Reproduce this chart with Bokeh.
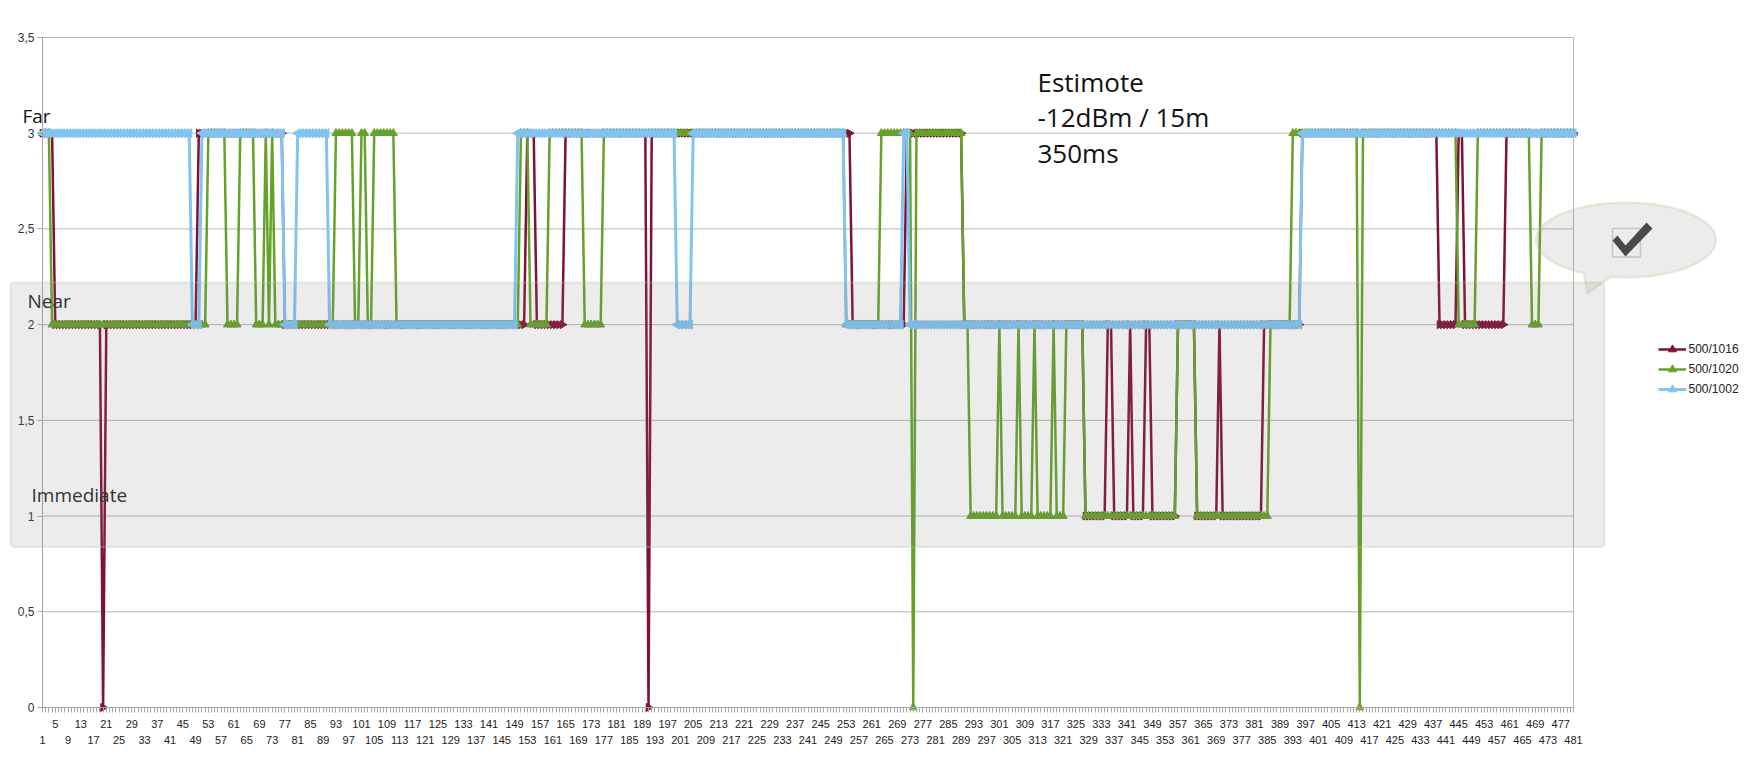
import math
from bokeh.plotting import figure
from bokeh.models import (Range1d, FixedTicker, LinearAxis, BoxAnnotation,
                          PolyAnnotation, Label)
from bokeh.embed import file_html
from bokeh.resources import INLINE

# ---------------- data ----------------
categories = list(range(1, 482))
top_row_ticks = list(range(5, 482, 8))
bottom_row_ticks = list(range(1, 482, 8))
y_ticks = [0, 0.5, 1, 1.5, 2, 2.5, 3, 3.5]
y_tick_labels = ["0", "0,5", "1", "1,5", "2", "2,5", "3", "3,5"]

series_names = ["500/1016", "500/1020", "500/1002"]

# change points: (first sample index, value held from there on)
changes_1016 = [(1, 3), (5, 2), (20, 0), (21, 2), (50, 3), (77, 2), (153, 3), (156, 2),
                (165, 3), (191, 0), (192, 3), (255, 2), (272, 3), (290, 2), (328, 1),
                (335, 2), (337, 1), (342, 2), (343, 1), (347, 2), (349, 1), (357, 2),
                (363, 1), (370, 2), (371, 1), (384, 2), (396, 3), (439, 2), (445, 3),
                (447, 2), (460, 3)]
changes_1020 = [(1, 3), (4, 2), (53, 3), (59, 2), (63, 3), (68, 2), (71, 3), (72, 2),
                (73, 3), (74, 2), (93, 3), (99, 2), (101, 3), (103, 2), (105, 3), (112, 2),
                (151, 3), (154, 2), (160, 3), (171, 2), (177, 3), (253, 2), (264, 3),
                (274, 0), (275, 3), (290, 2), (292, 1), (301, 2), (302, 1), (307, 2),
                (308, 1), (312, 2), (313, 1), (318, 2), (319, 1), (322, 2), (328, 1),
                (357, 2), (363, 1), (386, 2), (393, 3), (414, 0), (415, 3), (445, 2),
                (451, 3), (468, 2), (471, 3)]
changes_1002 = [(1, 3), (48, 2), (51, 3), (77, 2), (81, 3), (91, 2), (150, 3), (200, 2),
                (205, 3), (253, 2), (271, 3), (273, 2), (396, 3)]


def expand(changes, n):
    out = []
    for k, (start, val) in enumerate(changes):
        end = changes[k + 1][0] if k + 1 < len(changes) else n + 1
        out.extend([val] * (end - start))
    return out


s1016 = expand(changes_1016, len(categories))
s1020 = expand(changes_1020, len(categories))
s1002 = expand(changes_1002, len(categories))

C1016 = "#7f1036"
C1020 = "#65a22a"
C1002 = "#82c3f0"
GRID = "#b6b6b6"
AXIS = "#a6a6a6"

# ---------------- layout ----------------
W, H = 1749, 777
PX_FIRST, PX_LAST = 42, 1573      # pixel x of first / last category
PY_TOP, PY_BOT = 37, 707          # pixel y of 3.5 / 0
X0, X1 = categories[0], categories[-1]
Y0, Y1 = y_ticks[0], y_ticks[-1]


def dx(px):
    return X0 + (px - PX_FIRST) * (X1 - X0) / (PX_LAST - PX_FIRST)


def dy(py):
    return Y0 + (PY_BOT - py) * (Y1 - Y0) / (PY_BOT - PY_TOP)


# the frame covers the whole canvas; axes are pinned at x = first category / y = 0
p = figure(width=W, height=H, output_backend="svg", toolbar_location=None,
           x_range=Range1d(dx(0), dx(W)), y_range=Range1d(dy(H), dy(0)),
           min_border_left=0, min_border_right=0, min_border_top=0,
           min_border_bottom=0)
p.background_fill_color = "white"
p.border_fill_color = "white"
p.outline_line_color = None
p.xgrid.visible = False
p.ygrid.visible = False

ya = p.yaxis[0]
ya.fixed_location = X0
ya.bounds = (Y0, Y1)
ya.ticker = FixedTicker(ticks=y_ticks)
ya.major_label_overrides = {t: s for t, s in zip(y_ticks, y_tick_labels)}
ya.axis_line_color = AXIS
ya.major_tick_line_color = AXIS
ya.major_tick_out = 5
ya.major_tick_in = 0
ya.minor_tick_line_color = None
ya.major_label_standoff = 3
ya.major_label_text_font = "Liberation Sans"
ya.major_label_text_font_size = "12px"
ya.major_label_text_color = "#333333"

xa = p.xaxis[0]
xa.fixed_location = Y0
xa.bounds = (X0, X1)
xa.ticker = FixedTicker(ticks=top_row_ticks, minor_ticks=categories)
xa.axis_line_color = AXIS
xa.major_tick_line_color = AXIS
xa.minor_tick_line_color = AXIS
xa.major_tick_out = 5
xa.major_tick_in = 0
xa.minor_tick_out = 5
xa.minor_tick_in = 0
xa.major_label_standoff = 7
xa.major_label_text_font = "Liberation Sans"
xa.major_label_text_font_size = "11px"
xa.major_label_text_color = "#222222"

xb = LinearAxis(ticker=FixedTicker(ticks=bottom_row_ticks), bounds=(X0, X1),
                fixed_location=Y0)
xb.axis_line_color = None
xb.major_tick_line_color = None
xb.minor_tick_line_color = None
xb.major_tick_out = 0
xb.major_tick_in = 0
xb.minor_tick_out = 0
xb.minor_tick_in = 0
xb.major_label_standoff = 28
xb.major_label_text_font = "Liberation Sans"
xb.major_label_text_font_size = "11px"
xb.major_label_text_color = "#222222"
p.add_layout(xb, "below")

# horizontal grid lines and the right border of the plot area
p.segment(x0=[X0] * len(y_ticks), x1=[X1] * len(y_ticks), y0=y_ticks, y1=y_ticks,
          line_color=GRID, line_width=1)
p.segment(x0=[X1], x1=[X1], y0=[Y0], y1=[Y1], line_color=GRID, line_width=1)

# ---------------- series ----------------
specs = [
    (series_names[0], s1016, C1016, -math.pi / 2, 2.5, 8),
    (series_names[1], s1020, C1020, 0.0, 2.5, 8),
    (series_names[2], s1002, C1002, math.pi / 2, 3.0, 9),
]
for name, ys, col, ang, lw, ms in specs:
    p.line(categories, ys, line_color=col, line_width=lw, legend_label=name)
    p.scatter(categories, ys, marker="triangle", angle=ang, size=ms,
              fill_color=col, line_color=col, legend_label=name)

lg = p.legend[0]
lg.location = (1657.5, H - 399)
lg.margin = 0
lg.padding = 0
lg.spacing = 0
lg.glyph_width = 28
lg.glyph_height = 20
lg.label_height = 20
lg.label_standoff = 3
lg.border_line_color = None
lg.background_fill_alpha = 0
lg.label_text_font = "Liberation Sans"
lg.label_text_font_size = "12px"
lg.label_text_color = "#222222"

# ---------------- annotations ----------------
box = BoxAnnotation(left=dx(10), right=dx(1604), top=dy(282), bottom=dy(546.5),
                    fill_color="#808080", fill_alpha=0.15,
                    line_color="#a9d18e", line_width=2, border_radius=4)
p.add_layout(box)

cx, cy, rx, ry = 1625.5, 239.5, 90, 37.5
t1, t2 = 100, 118
bx, by = [], []
for k in range(0, 73):
    t = math.radians(t2 + (t1 + 360 - t2) * k / 72)
    bx.append(dx(cx + rx * math.cos(t)))
    by.append(dy(cy + ry * math.sin(t)))
bx.append(dx(1587))
by.append(dy(293))
bubble = PolyAnnotation(xs=bx, ys=by, fill_color="#808080", fill_alpha=0.15,
                        line_color="#a9d18e", line_width=2.5)
p.add_layout(bubble)

chk_box = BoxAnnotation(left=dx(1612), right=dx(1640), top=dy(228), bottom=dy(256.5),
                        fill_alpha=0, line_color="#6e6e6e", line_width=1.5)
p.add_layout(chk_box)
ck = [(1612, 240), (1617, 235), (1625, 245), (1646, 222), (1652, 228), (1625, 256)]
check = PolyAnnotation(xs=[dx(a) for a, b in ck], ys=[dy(b) for a, b in ck],
                       fill_color="#4a4a4a", fill_alpha=1, line_color=None)
p.add_layout(check)

texts = [
    ("Far", 22, 115.5, "19px", "#111111"),
    ("Near", 27, 300, "19px", "#333333"),
    ("Immediate", 31, 494, "19px", "#333333"),
    ("Estimote", 1037, 81, "26px", "#111111"),
    ("-12dBm / 15m", 1037, 116, "26px", "#111111"),
    ("350ms", 1037, 152, "26px", "#111111"),
]
for txt, px, py, fs, col in texts:
    p.add_layout(Label(x=dx(px), y=dy(py), text=txt, text_font="Open Sans",
                       text_font_size=fs, text_baseline="middle", text_align="left",
                       text_color=col))

open("out.html", "w").write(file_html(p, INLINE))
